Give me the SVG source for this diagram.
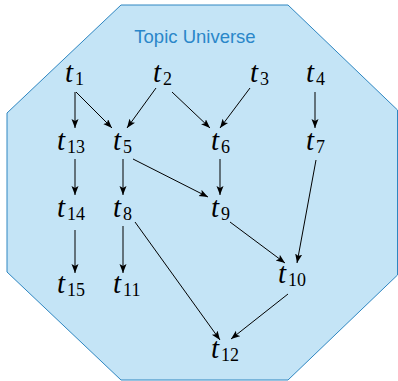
<svg xmlns="http://www.w3.org/2000/svg" width="398" height="381" viewBox="0 0 398 381">
<style>
.t{font-family:"Liberation Serif","Times New Roman",serif;font-style:italic;font-size:29px;fill:#000}
.s{font-style:normal;font-size:18px}
.e line{stroke:#000;stroke-width:1;marker-end:url(#ah)}
.title{font-family:"Liberation Sans",Arial,sans-serif;font-size:18.5px;fill:#2a87c9}
</style>
<defs>
<marker id="ah" markerUnits="userSpaceOnUse" markerWidth="10" markerHeight="8" refX="9" refY="3.5" orient="auto">
<path d="M0,0 L9,3.5 L0,7 L2,3.5 z" fill="#000"/>
</marker>
</defs>
<g id="universe">
<polygon points="121,5 288,5 397.5,110 397.5,275 288,380 121,380 7,272 7,113" fill="#c4e4f6" stroke="#2e86c1" stroke-width="1"/>
<text class="title" x="195" y="43" text-anchor="middle">Topic Universe</text>
</g>
<g id="edges" class="e">
<line x1="75" y1="92" x2="75" y2="128"/>
<line x1="76" y1="92" x2="112" y2="128"/>
<line x1="156" y1="88" x2="127" y2="128"/>
<line x1="172" y1="92" x2="210" y2="128"/>
<line x1="250" y1="88" x2="220" y2="128"/>
<line x1="315" y1="92" x2="315" y2="128"/>
<line x1="75" y1="159" x2="75" y2="195"/>
<line x1="123" y1="159" x2="123" y2="195"/>
<line x1="133" y1="159" x2="208" y2="197"/>
<line x1="220" y1="159" x2="220" y2="195"/>
<line x1="316" y1="160" x2="297" y2="263"/>
<line x1="75" y1="230" x2="75" y2="273"/>
<line x1="123" y1="226" x2="123" y2="273"/>
<line x1="135" y1="222" x2="220" y2="340"/>
<line x1="230" y1="222" x2="285" y2="263"/>
<line x1="288" y1="294" x2="231" y2="339"/>
</g>
<g id="t1"><text class="t" x="65" y="82">t<tspan class="s" dx="2" dy="3">1</tspan></text></g>
<g id="t2"><text class="t" x="153" y="82">t<tspan class="s" dx="2" dy="3">2</tspan></text></g>
<g id="t3"><text class="t" x="250" y="82">t<tspan class="s" dx="2" dy="3">3</tspan></text></g>
<g id="t4"><text class="t" x="306" y="82">t<tspan class="s" dx="2" dy="3">4</tspan></text></g>
<g id="t13"><text class="t" x="57" y="150">t<tspan class="s" dx="2" dy="3">13</tspan></text></g>
<g id="t5"><text class="t" x="113" y="150">t<tspan class="s" dx="2" dy="3">5</tspan></text></g>
<g id="t6"><text class="t" x="211" y="150">t<tspan class="s" dx="2" dy="3">6</tspan></text></g>
<g id="t7"><text class="t" x="306" y="150">t<tspan class="s" dx="2" dy="3">7</tspan></text></g>
<g id="t14"><text class="t" x="57" y="217">t<tspan class="s" dx="2" dy="3">14</tspan></text></g>
<g id="t8"><text class="t" x="113" y="217">t<tspan class="s" dx="2" dy="3">8</tspan></text></g>
<g id="t9"><text class="t" x="211" y="217">t<tspan class="s" dx="2" dy="3">9</tspan></text></g>
<g id="t10"><text class="t" x="278" y="283">t<tspan class="s" dx="2" dy="3">10</tspan></text></g>
<g id="t15"><text class="t" x="57" y="293">t<tspan class="s" dx="2" dy="3">15</tspan></text></g>
<g id="t11"><text class="t" x="113" y="293">t<tspan class="s" dx="2" dy="3">11</tspan></text></g>
<g id="t12"><text class="t" x="211" y="358">t<tspan class="s" dx="2" dy="3">12</tspan></text></g>
</svg>
